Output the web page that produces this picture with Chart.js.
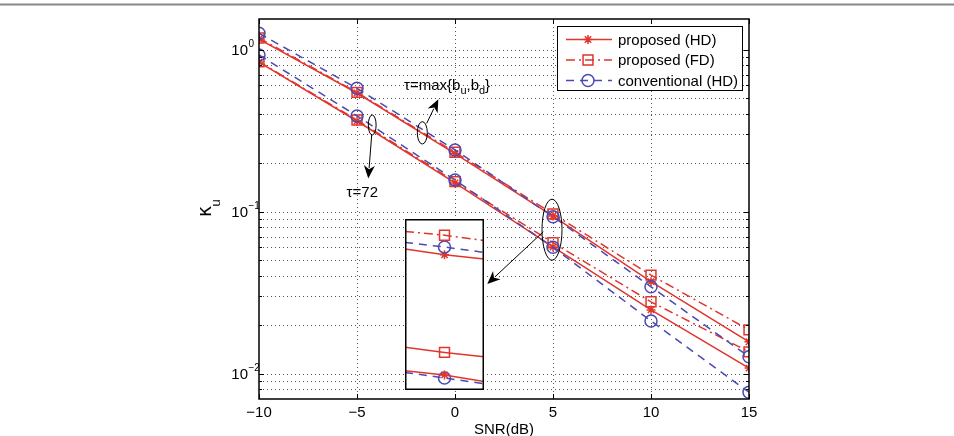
<!DOCTYPE html>
<html>
<head>
<meta charset="utf-8">
<script src="https://cdn.jsdelivr.net/npm/chart.js@4.4.1/dist/chart.umd.min.js"></script>
<style>
  html, body { margin: 0; padding: 0; background: #fff; }
  #wrap { position: relative; width: 954px; height: 436px; }
  #inset { position: absolute; left: 405px; top: 219px; background: #fff; }
</style>
</head>
<body>
<div id="wrap">
  <canvas id="main" width="954" height="436"></canvas>
  <canvas id="inset" width="79" height="171"></canvas>
</div>
<script>
// data
const snr = [-10, -5, 0, 5, 10, 15];

const hdMax   = [1.16, 0.539, 0.228, 0.0938, 0.0369, 0.0157];
const hd72    = [0.837, 0.362, 0.150, 0.0604, 0.0247, 0.0108];
const fdMax   = [1.178, 0.544, 0.232, 0.0966, 0.0405, 0.0186];
const fd72    = [0.841, 0.367, 0.153, 0.0642, 0.0277, 0.0136];
const convMax = [1.259, 0.576, 0.240, 0.0929, 0.0343, 0.0127];
const conv72  = [0.925, 0.389, 0.1565, 0.0601, 0.0211, 0.00766];

// zoomed inset around SNR = 5 dB
const insetX       = [4.9, 5, 5.1];
const insetFdMax   = [0.0960, 0.0948, 0.0932];
const insetConvMax = [0.0926, 0.0912, 0.0896];
const insetHdMax   = [0.0906, 0.0889, 0.0877];
const insetFd72    = [0.0656, 0.0645, 0.0636];
const insetHd72    = [0.0607, 0.0599, 0.0586];
const insetConv72  = [0.0604, 0.0593, 0.0582];

const xTicks = [-10, -5, 0, 5, 10, 15];
const xTickLabels = ['\u221210', '\u22125', '0', '5', '10', '15'];
const yDecades = [0.01, 0.1, 1];
const yDecadeExp = ['\u22122', '\u22121', '0'];
const yGrid = [0.008, 0.009, 0.01, 0.02, 0.03, 0.04, 0.05, 0.06, 0.07, 0.08, 0.09,
               0.1, 0.2, 0.3, 0.4, 0.5, 0.6, 0.7, 0.8, 0.9, 1];
const yMinorTicks = [0.008, 0.009, 0.02, 0.03, 0.04, 0.05, 0.06, 0.07, 0.08, 0.09,
                     0.2, 0.3, 0.4, 0.5, 0.6, 0.7, 0.8, 0.9];

const legendLabels = ['proposed (HD)', 'proposed (FD)', 'conventional (HD)'];

// annotations (data coordinates)
const ellipses = [
  { x: -1.668, y: 0.306, rx: 5, ry: 11.2 },
  { x: -4.224, y: 0.342, rx: 3.9, ry: 10 },
  { x: 4.949, y: 0.0772, rx: 10, ry: 30.5 }
];
const arrows = [
  { x1: -1.444, y1: 0.350, x2: -0.852, y2: 0.493 },
  { x1: -4.25, y1: 0.2966, x2: -4.423, y2: 0.160 },
  { x1: 4.505, y1: 0.0750, x2: 1.648, y2: 0.0357 }
];
const tauMaxPos = { x: -2.602, y: 0.595 };
const tau72Pos = { x: -4.73, y: 0.130 };

const RED = '#e0362d';
const BLUE = '#4a4ab4';
const FONT = '15px "Liberation Sans", Arial, sans-serif';
const SMALL = '10px "Liberation Sans", Arial, sans-serif';

const styles = {
  hd:   { color: RED,  dash: [],           point: 'star',   r: 4.5 },
  fd:   { color: RED,  dash: [9, 4, 2, 4], point: 'rect',   r: 7 },
  conv: { color: BLUE, dash: [8, 6],       point: 'circle', r: 6 }
};

function series(xs, ys, kind, dash, radius) {
  const s = styles[kind];
  return {
    data: ys.map((v, i) => ({ x: xs[i], y: v })),
    borderColor: s.color,
    borderWidth: 1.5,
    borderDash: dash || s.dash,
    pointStyle: s.point,
    pointRadius: radius || s.r,
    pointBorderColor: s.color,
    pointBackgroundColor: 'rgba(0,0,0,0)',
    pointBorderWidth: 1.5,
    fill: false,
    tension: 0
  };
}

function marker(ctx, kind, x, y) {
  const s = styles[kind];
  ctx.save();
  ctx.setLineDash([]);
  ctx.strokeStyle = s.color;
  ctx.lineWidth = 1.5;
  ctx.beginPath();
  if (s.point === 'star') {
    [0, 45, 90, 135].forEach(a => {
      const r = a * Math.PI / 180;
      ctx.moveTo(x - s.r * Math.cos(r), y - s.r * Math.sin(r));
      ctx.lineTo(x + s.r * Math.cos(r), y + s.r * Math.sin(r));
    });
  } else if (s.point === 'rect') {
    const h = s.r * Math.SQRT1_2;
    ctx.rect(x - h, y - h, 2 * h, 2 * h);
  } else {
    ctx.arc(x, y, s.r, 0, Math.PI * 2);
  }
  ctx.stroke();
  ctx.restore();
}

function arrow(ctx, x1, y1, x2, y2) {
  const a = Math.atan2(y2 - y1, x2 - x1);
  const len = 13, w = 5.5;
  ctx.beginPath();
  ctx.moveTo(x1, y1);
  ctx.lineTo(x2 - len * Math.cos(a) * 0.8, y2 - len * Math.sin(a) * 0.8);
  ctx.stroke();
  ctx.beginPath();
  ctx.moveTo(x2, y2);
  ctx.lineTo(x2 - len * Math.cos(a) + w * Math.sin(a), y2 - len * Math.sin(a) - w * Math.cos(a));
  ctx.lineTo(x2 - len * 0.7 * Math.cos(a), y2 - len * 0.7 * Math.sin(a));
  ctx.lineTo(x2 - len * Math.cos(a) - w * Math.sin(a), y2 - len * Math.sin(a) + w * Math.cos(a));
  ctx.closePath();
  ctx.fill();
}

const gridPlugin = {
  id: 'grid',
  beforeDatasetsDraw(chart) {
    const ctx = chart.ctx, a = chart.chartArea;
    const xs = chart.scales.x, ys = chart.scales.y;
    ctx.save();
    // page rule at the very top
    ctx.strokeStyle = '#888';
    ctx.lineWidth = 2;
    ctx.beginPath();
    ctx.moveTo(0, 4.5); ctx.lineTo(chart.width, 4.5);
    ctx.stroke();

    ctx.strokeStyle = '#555';
    ctx.lineWidth = 1;
    ctx.setLineDash([1, 3]);
    xTicks.slice(1, -1).forEach(v => {
      const px = Math.round(xs.getPixelForValue(v)) + 0.5;
      ctx.beginPath(); ctx.moveTo(px, a.top); ctx.lineTo(px, a.bottom); ctx.stroke();
    });
    yGrid.forEach(v => {
      const py = Math.round(ys.getPixelForValue(v)) + 0.5;
      ctx.beginPath(); ctx.moveTo(a.left, py); ctx.lineTo(a.right, py); ctx.stroke();
    });
    ctx.restore();
  },
  afterDatasetsDraw(chart) {
    const ctx = chart.ctx, a = chart.chartArea;
    const xs = chart.scales.x, ys = chart.scales.y;
    ctx.save();
    ctx.strokeStyle = '#000';
    ctx.fillStyle = '#000';
    ctx.lineWidth = 1;

    // ticks, inside
    ctx.beginPath();
    xTicks.forEach(v => {
      const px = Math.round(xs.getPixelForValue(v)) + 0.5;
      ctx.moveTo(px, a.bottom); ctx.lineTo(px, a.bottom - 5);
      ctx.moveTo(px, a.top); ctx.lineTo(px, a.top + 5);
    });
    yDecades.forEach(v => {
      const py = Math.round(ys.getPixelForValue(v)) + 0.5;
      ctx.moveTo(a.left, py); ctx.lineTo(a.left + 5, py);
      ctx.moveTo(a.right, py); ctx.lineTo(a.right - 5, py);
    });
    yMinorTicks.forEach(v => {
      const py = Math.round(ys.getPixelForValue(v)) + 0.5;
      ctx.moveTo(a.left, py); ctx.lineTo(a.left + 3, py);
      ctx.moveTo(a.right, py); ctx.lineTo(a.right - 3, py);
    });
    ctx.stroke();

    // axes box
    ctx.lineWidth = 1.5;
    ctx.strokeRect(a.left, a.top, a.right - a.left, a.bottom - a.top);

    // tick labels
    ctx.font = FONT;
    ctx.textAlign = 'center';
    ctx.textBaseline = 'middle';
    xTicks.forEach((v, i) => ctx.fillText(xTickLabels[i], xs.getPixelForValue(v), a.bottom + 14));
    yDecades.forEach((v, i) => {
      const py = ys.getPixelForValue(v);
      ctx.font = FONT; ctx.textAlign = 'right';
      ctx.fillText('10', a.left - 11, py + 1);
      ctx.font = SMALL; ctx.textAlign = 'left';
      ctx.fillText(yDecadeExp[i], a.left - 10.5, py - 5.5);
    });

    // axis titles
    ctx.font = FONT;
    ctx.textAlign = 'center';
    ctx.fillText('SNR(dB)', (a.left + a.right) / 2, a.bottom + 31);
    const midY = (a.top + a.bottom) / 2;
    ctx.save();
    ctx.translate(a.left - 53, midY + 2.5);
    ctx.rotate(-Math.PI / 2);
    ctx.font = '19px "DejaVu Sans", sans-serif';
    ctx.fillText('\u03ba', 0, 0);
    ctx.restore();
    ctx.save();
    ctx.translate(a.left - 43, midY - 6);
    ctx.rotate(-Math.PI / 2);
    ctx.font = '13px "Liberation Sans", Arial, sans-serif';
    ctx.fillText('u', 0, 0);
    ctx.restore();

    // ellipses + arrows
    ctx.lineWidth = 1;
    ellipses.forEach(e => {
      ctx.beginPath();
      ctx.ellipse(xs.getPixelForValue(e.x), ys.getPixelForValue(e.y), e.rx, e.ry, 0, 0, Math.PI * 2);
      ctx.stroke();
    });
    arrows.forEach(r => arrow(ctx,
      xs.getPixelForValue(r.x1), ys.getPixelForValue(r.y1),
      xs.getPixelForValue(r.x2), ys.getPixelForValue(r.y2)));

    // annotation text
    ctx.textAlign = 'left';
    let tx = xs.getPixelForValue(tauMaxPos.x);
    const ty = ys.getPixelForValue(tauMaxPos.y);
    [['\u03c4=max{b', 0], ['u', 1], [',b', 0], ['d', 1], ['}', 0]].forEach(p => {
      ctx.font = p[1] ? '11px "Liberation Sans", Arial, sans-serif' : FONT;
      ctx.fillText(p[0], tx, ty + (p[1] ? 5 : 0));
      tx += ctx.measureText(p[0]).width;
    });
    ctx.font = FONT;
    ctx.textAlign = 'center';
    ctx.fillText('\u03c4=72', xs.getPixelForValue(tau72Pos.x), ys.getPixelForValue(tau72Pos.y));

    // legend
    const lw = 185, lh = 64;
    const lx = a.right - 7 - lw, ly = a.top + 7;
    ctx.fillStyle = '#fff';
    ctx.fillRect(lx, ly, lw, lh);
    ctx.strokeStyle = '#000';
    ctx.lineWidth = 1;
    ctx.strokeRect(lx + 0.5, ly + 0.5, lw, lh);
    ['hd', 'fd', 'conv'].forEach((k, i) => {
      const yy = ly + 13.5 + i * 20.5;
      ctx.save();
      ctx.strokeStyle = styles[k].color;
      ctx.lineWidth = 1.5;
      ctx.setLineDash(styles[k].dash);
      ctx.beginPath(); ctx.moveTo(lx + 9, yy); ctx.lineTo(lx + 55, yy); ctx.stroke();
      ctx.restore();
      marker(ctx, k, lx + 31, yy);
      ctx.fillStyle = '#000';
      ctx.font = FONT;
      ctx.textAlign = 'left';
      ctx.fillText(legendLabels[i], lx + 61, yy + 1);
    });
    ctx.restore();
  }
};

const insetBorder = {
  id: 'insetBorder',
  afterDraw(chart) {
    const ctx = chart.ctx;
    ctx.save();
    ctx.strokeStyle = '#000';
    ctx.lineWidth = 1.5;
    ctx.strokeRect(0.75, 0.75, chart.width - 1.5, chart.height - 1.5);
    ctx.restore();
  }
};

const mainChart = new Chart(document.getElementById('main'), {
  type: 'line',
  data: {
    datasets: [
      series(snr, convMax, 'conv'),
      series(snr, conv72, 'conv'),
      series(snr, fdMax, 'fd'),
      series(snr, fd72, 'fd'),
      series(snr, hdMax, 'hd'),
      series(snr, hd72, 'hd')
    ]
  },
  options: {
    responsive: false,
    animation: false,
    devicePixelRatio: 1,
    layout: { padding: { left: 259, right: 205, top: 19, bottom: 37 } },
    plugins: { legend: { display: false }, tooltip: { enabled: false } },
    scales: {
      x: { type: 'linear', min: -10, max: 15, display: false },
      y: { type: 'logarithmic', min: 0.00696, max: 1.543, display: false }
    }
  },
  plugins: [gridPlugin]
});

const insetChart = new Chart(document.getElementById('inset'), {
  type: 'line',
  data: {
    datasets: [
      series(insetX, insetFdMax, 'fd', null, [0, styles.fd.r, 0]),
      series(insetX, insetConvMax, 'conv', null, [0, styles.conv.r, 0]),
      series(insetX, insetHdMax, 'hd', null, [0, styles.hd.r, 0]),
      series(insetX, insetFd72, 'fd', [], [0, styles.fd.r, 0]),
      series(insetX, insetHd72, 'hd', null, [0, styles.hd.r, 0]),
      series(insetX, insetConv72, 'conv', null, [0, styles.conv.r, 0])
    ]
  },
  options: {
    responsive: false,
    animation: false,
    devicePixelRatio: 1,
    layout: { padding: 0 },
    plugins: { legend: { display: false }, tooltip: { enabled: false } },
    scales: {
      x: { type: 'linear', min: 4.9, max: 5.1, display: false },
      y: { type: 'logarithmic', min: 0.057, max: 0.1, display: false }
    }
  },
  plugins: [insetBorder]
});
</script>
</body>
</html>
